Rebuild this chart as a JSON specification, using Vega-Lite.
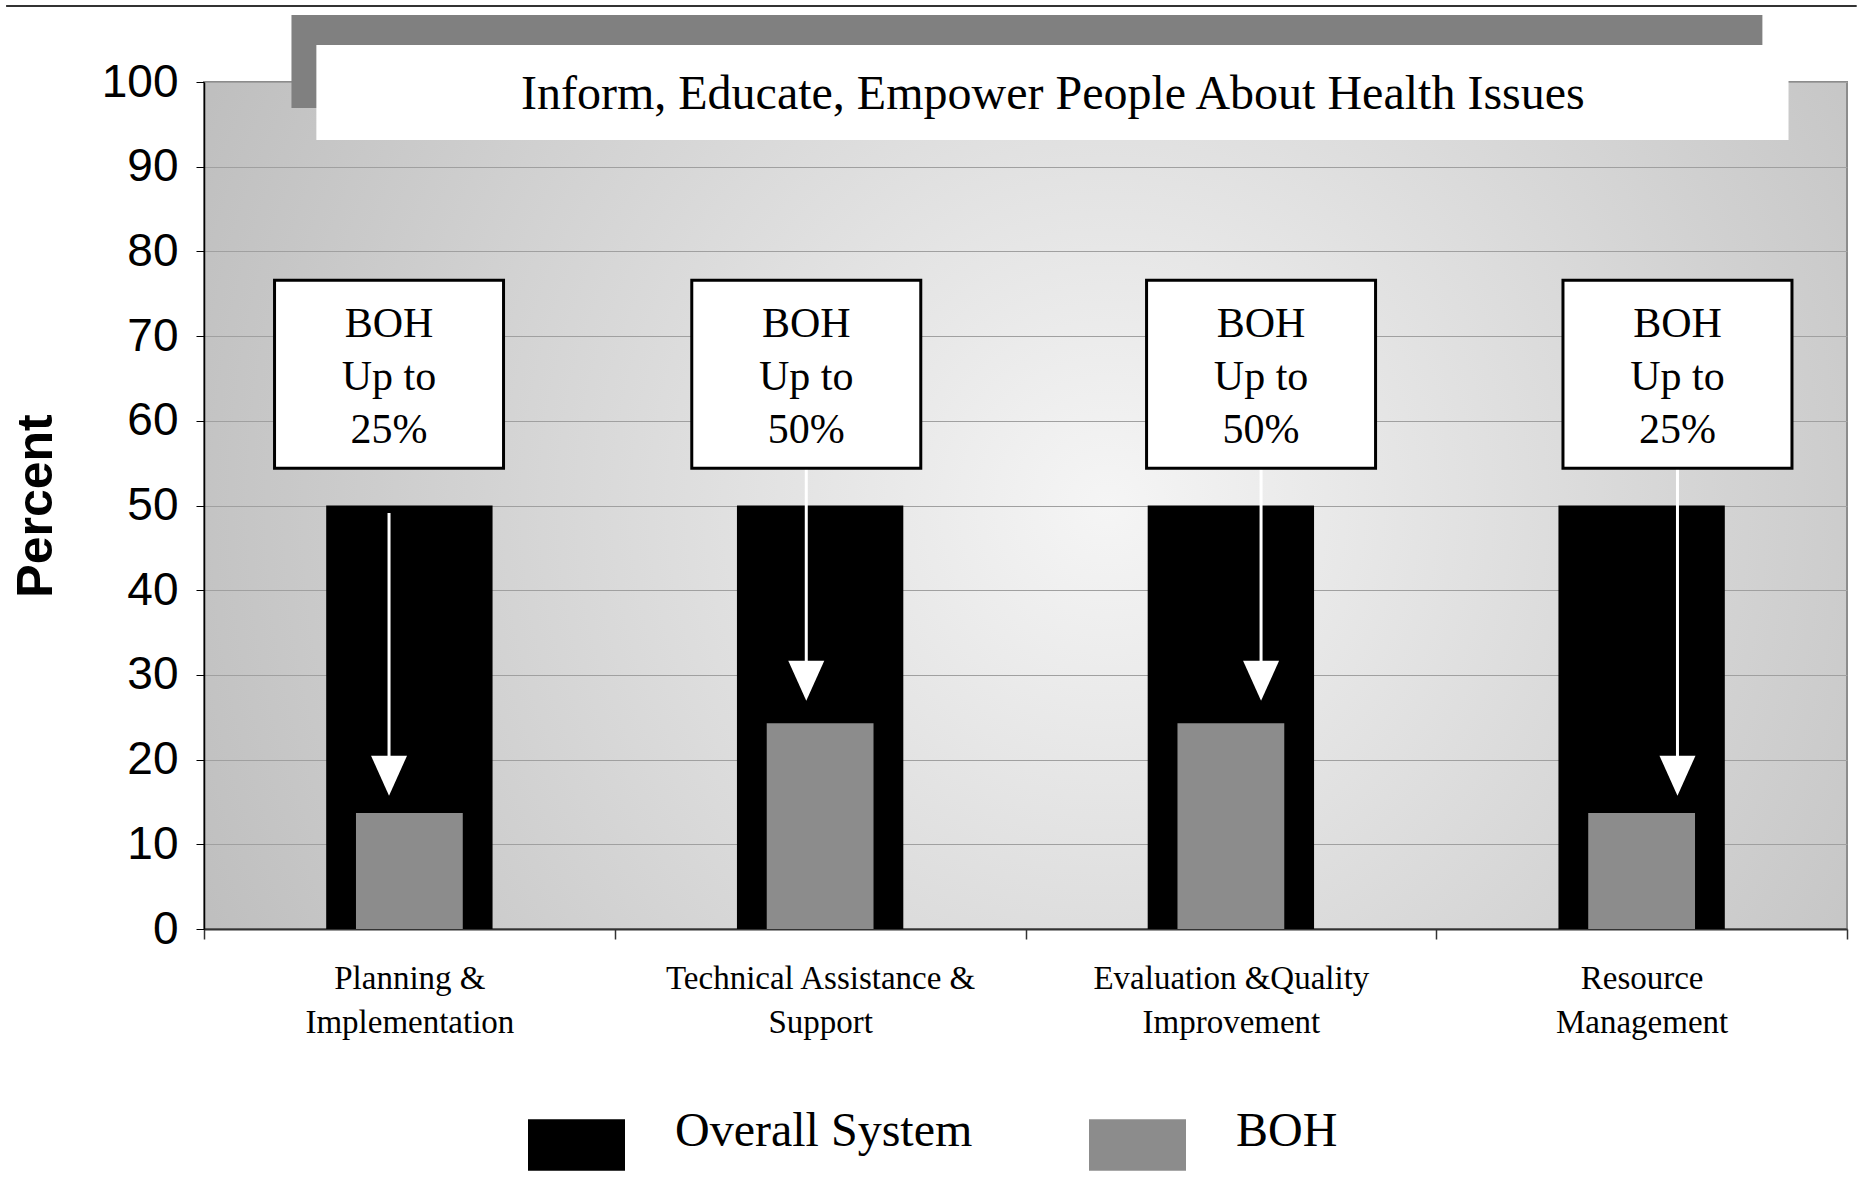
{
  "$schema": "https://vega.github.io/schema/vega-lite/v6.json",
  "width": 1643,
  "height": 847,
  "autosize": {"type": "none"},
  "padding": {"left": 204, "top": 82, "right": 15, "bottom": 265},
  "background": "#ffffff",
  "config": {
    "view": {
      "stroke": "#8c8c8c",
      "strokeWidth": 2,
      "fill": {"gradient": "radial", "x1": 0.55, "y1": 0.5, "r1": 0, "x2": 0.55, "y2": 0.5, "r2": 0.6,
        "stops": [{"offset": 0, "color": "#f5f5f5"}, {"offset": 1, "color": "#bfbfbf"}]}
    },
    "font": "Liberation Serif",
    "axisY": {
      "tickCount": 10,
      "grid": true, "gridColor": "#a0a0a0", "gridWidth": 1.2,
      "domainColor": "#000000", "domainWidth": 1.5, "tickColor": "#000000", "tickSize": 8,
      "labelFont": "Liberation Sans", "labelFontSize": 46, "labelColor": "#000000", "labelPadding": 18,
      "titleFont": "Liberation Sans", "titleFontSize": 50, "titleFontWeight": "bold", "titleColor": "#000000",
      "titlePadding": 40
    }
  },
  "datasets": {
    "bars": [
      {"category": "Planning &\nImplementation", "series": "Overall System", "value": 50},
      {"category": "Technical Assistance &\nSupport", "series": "Overall System", "value": 50},
      {"category": "Evaluation &Quality\nImprovement", "series": "Overall System", "value": 50},
      {"category": "Resource\nManagement", "series": "Overall System", "value": 50},
      {"category": "Planning &\nImplementation", "series": "BOH", "value": 13.7},
      {"category": "Technical Assistance &\nSupport", "series": "BOH", "value": 24.3},
      {"category": "Evaluation &Quality\nImprovement", "series": "BOH", "value": 24.3},
      {"category": "Resource\nManagement", "series": "BOH", "value": 13.7}
    ],
    "notes": [
      {"pos": 0.441, "boxTop": 76.6, "boxBottom": 54.4, "textY": 71.4, "label": "BOH\nUp to\n25%", "arrowStart": 49.1, "arrowEnd": 18.1},
      {"pos": 1.463, "boxTop": 76.6, "boxBottom": 54.4, "textY": 71.4, "label": "BOH\nUp to\n50%", "arrowStart": 54.4, "arrowEnd": 29.3},
      {"pos": 2.577, "boxTop": 76.6, "boxBottom": 54.4, "textY": 71.4, "label": "BOH\nUp to\n50%", "arrowStart": 54.4, "arrowEnd": 29.3},
      {"pos": 3.597, "boxTop": 76.6, "boxBottom": 54.4, "textY": 71.4, "label": "BOH\nUp to\n25%", "arrowStart": 54.4, "arrowEnd": 18.1}
    ],
    "titlebox": [
      {"title": "Inform, Educate, Empower People About Health Issues", "tx": 2.067, "ty": 98.5,
       "bx1": 0.263, "bx2": 3.869, "by1": 93.15, "by2": 104.37,
       "sx1": 0.202, "sx2": 3.805, "sy1": 96.93, "sy2": 107.9,
       "lx1": -0.497, "lx2": 4.036, "ly": 108.97}
    ]
  },
  "layer": [
    {
      "data": {"name": "bars"},
      "encoding": {
        "x": {
          "field": "category", "type": "nominal", "sort": null,
          "scale": {"paddingInner": 0, "paddingOuter": 0},
          "axis": {
            "title": null, "labelAngle": 0, "tickBand": "extent",
            "labelExpr": "split(datum.label, '\\n')",
            "labelFont": "Liberation Serif", "labelFontSize": 33, "labelLineHeight": 44,
            "labelColor": "#000000", "labelPadding": 23, "labelLimit": 0,
            "domainColor": "#333333", "domainWidth": 2, "tickColor": "#333333", "tickSize": 10, "tickWidth": 1.5,
            "grid": false
          }
        },
        "y": {
          "field": "value", "type": "quantitative", "title": "Percent",
          "scale": {"domain": [0, 100], "nice": false}
        },
        "color": {
          "field": "series", "type": "nominal",
          "scale": {"domain": ["Overall System", "BOH"], "range": ["#000000", "#8c8c8c"]},
          "legend": {
            "orient": "none", "legendX": 324, "legendY": 1001, "direction": "horizontal", "title": null,
            "symbolType": "M-1,-0.26L1,-0.26L1,0.8L-1,0.8Z", "symbolSize": 9409, "symbolStrokeWidth": 0,
            "symbolOpacity": 1,
            "labelFont": "Liberation Serif", "labelFontSize": 48, "labelColor": "#000000", "labelOffset": 50,
            "columnPadding": 116, "labelLimit": 0
          }
        }
      },
      "layer": [
        {"transform": [{"filter": "datum.series === 'Overall System'"}], "mark": {"type": "bar", "width": {"band": 0.405}}},
        {"transform": [{"filter": "datum.series === 'BOH'"}], "mark": {"type": "bar", "width": {"band": 0.26}}}
      ]
    },
    {
      "layer": [
        {
          "data": {"name": "titlebox"},
          "mark": {"type": "rule", "color": "#333333", "strokeWidth": 2},
          "encoding": {
            "x": {"field": "lx1", "type": "quantitative", "scale": {"domain": [0, 4], "nice": false, "zero": false}, "axis": null},
            "x2": {"field": "lx2"},
            "y": {"field": "ly", "type": "quantitative", "title": "Percent", "scale": {"domain": [0, 100], "nice": false}}
          }
        },
        {
          "data": {"name": "titlebox"},
          "mark": {"type": "rect", "color": "#808080"},
          "encoding": {
            "x": {"field": "sx1", "type": "quantitative", "scale": {"domain": [0, 4], "nice": false, "zero": false}, "axis": null},
            "x2": {"field": "sx2"},
            "y": {"field": "sy1", "type": "quantitative", "title": "Percent", "scale": {"domain": [0, 100], "nice": false}},
            "y2": {"field": "sy2"}
          }
        },
        {
          "data": {"name": "titlebox"},
          "mark": {"type": "rect", "color": "#ffffff"},
          "encoding": {
            "x": {"field": "bx1", "type": "quantitative", "scale": {"domain": [0, 4], "nice": false, "zero": false}, "axis": null},
            "x2": {"field": "bx2"},
            "y": {"field": "by1", "type": "quantitative", "title": "Percent", "scale": {"domain": [0, 100], "nice": false}},
            "y2": {"field": "by2"}
          }
        },
        {
          "data": {"name": "titlebox"},
          "mark": {"type": "text", "font": "Liberation Serif", "fontSize": 48, "color": "#000000", "baseline": "middle", "align": "center"},
          "encoding": {
            "x": {"field": "tx", "type": "quantitative", "scale": {"domain": [0, 4], "nice": false, "zero": false}, "axis": null},
            "y": {"field": "ty", "type": "quantitative", "title": "Percent", "scale": {"domain": [0, 100], "nice": false}},
            "text": {"field": "title", "type": "nominal"}
          }
        },
        {
          "data": {"name": "notes"},
          "mark": {"type": "rule", "color": "#ffffff", "strokeWidth": 3},
          "encoding": {
            "x": {"field": "pos", "type": "quantitative", "scale": {"domain": [0, 4], "nice": false, "zero": false}, "axis": null},
            "y": {"field": "arrowStart", "type": "quantitative", "title": "Percent", "scale": {"domain": [0, 100], "nice": false}},
            "y2": {"field": "arrowEnd"}
          }
        },
        {
          "data": {"name": "notes"},
          "mark": {"type": "point", "shape": "M-0.9,-1L0.9,-1L0,1Z", "size": 1600, "filled": true, "color": "#ffffff", "opacity": 1, "strokeWidth": 0},
          "encoding": {
            "x": {"field": "pos", "type": "quantitative", "scale": {"domain": [0, 4], "nice": false, "zero": false}, "axis": null},
            "y": {"field": "arrowEnd", "type": "quantitative", "title": "Percent", "scale": {"domain": [0, 100], "nice": false}}
          }
        },
        {
          "data": {"name": "notes"},
          "mark": {"type": "bar", "width": 229, "fill": "#ffffff", "stroke": "#000000", "strokeWidth": 3},
          "encoding": {
            "x": {"field": "pos", "type": "quantitative", "scale": {"domain": [0, 4], "nice": false, "zero": false}, "axis": null},
            "y": {"field": "boxTop", "type": "quantitative", "title": "Percent", "scale": {"domain": [0, 100], "nice": false}},
            "y2": {"field": "boxBottom"}
          }
        },
        {
          "data": {"name": "notes"},
          "mark": {"type": "text", "font": "Liberation Serif", "fontSize": 42, "lineHeight": 53, "lineBreak": "\n", "color": "#000000", "baseline": "middle", "align": "center"},
          "encoding": {
            "x": {"field": "pos", "type": "quantitative", "scale": {"domain": [0, 4], "nice": false, "zero": false}, "axis": null},
            "y": {"field": "textY", "type": "quantitative", "title": "Percent", "scale": {"domain": [0, 100], "nice": false}},
            "text": {"field": "label", "type": "nominal"}
          }
        }
      ]
    }
  ],
  "resolve": {"scale": {"x": "independent"}}
}
